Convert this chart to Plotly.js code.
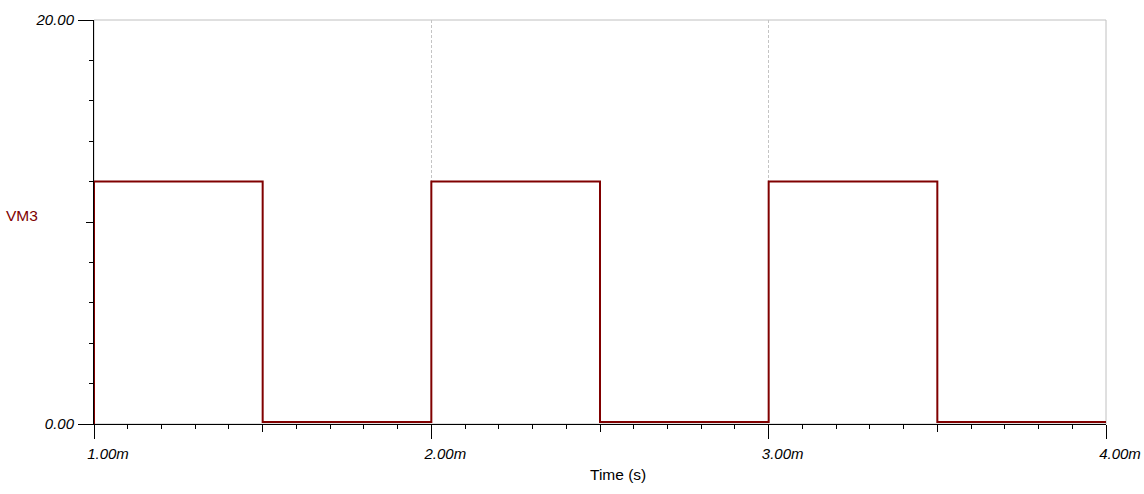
<!DOCTYPE html>
<html>
<head>
<meta charset="utf-8">
<script src="https://cdn.plot.ly/plotly-3.0.1.min.js"></script>
<style>
html,body{margin:0;padding:0;background:#fff;}
#chart{width:1144px;height:494px;}
</style>
</head>
<body>
<div id="chart"></div>
<script>
// Time in seconds, voltage of VM3
var timeS = [0.001, 0.001, 0.0015, 0.0015, 0.002, 0.002, 0.0025, 0.0025, 0.003, 0.003, 0.0035, 0.0035, 0.004];
var vm3 = [0, 12, 12, 0.1, 0.1, 12, 12, 0.1, 0.1, 12, 12, 0.1, 0.1];

var xTickVals = [0.001, 0.002, 0.003, 0.004];
var xTickText = ["1.00m", "2.00m", "3.00m", "4.00m"];
var xMidTicks = [0.0015, 0.0025, 0.0035];
var yTickVals = [0, 20];
var yTickText = ["0.00", "20.00"];
var yMidTicks = [10];

var tickFont = {family: "Liberation Sans, Arial, sans-serif", size: 15, color: "#000", style: "italic"};

var data = [
  {x: timeS, y: vm3, type: "scatter", mode: "lines",
   line: {color: "#800000", width: 2}, hoverinfo: "skip", showlegend: false},
  {x: [], y: [], xaxis: "x2", yaxis: "y2", type: "scatter", mode: "lines", showlegend: false, hoverinfo: "skip"}
];

var layout = {
  width: 1144, height: 494,
  margin: {l: 94, r: 38, t: 20, b: 70},
  paper_bgcolor: "#fff", plot_bgcolor: "#fff",
  showlegend: false,
  xaxis: {
    range: [0.001, 0.004], fixedrange: true,
    tickmode: "array", tickvals: xTickVals, ticktext: xTickText,
    ticks: "outside", ticklen: 14, tickcolor: "#000", tickwidth: 1,
    tickfont: tickFont, ticklabelshift: 14, ticklabelstandoff: 2,
    showline: true, linecolor: "#000", linewidth: 1,
    showgrid: true, gridcolor: "#c4c4c4", griddash: "3px,2px", gridwidth: 1,
    zeroline: false,
    minor: {dtick: 0.0001, tick0: 0.001, ticks: "outside", ticklen: 4, tickcolor: "#000", tickwidth: 1, showgrid: false}
  },
  xaxis2: {
    overlaying: "x", anchor: "y", side: "bottom",
    range: [0.001, 0.004], fixedrange: true,
    tickmode: "array", tickvals: xMidTicks,
    ticks: "outside", ticklen: 7, tickcolor: "#000", tickwidth: 1,
    showticklabels: false, showgrid: false, showline: false, zeroline: false
  },
  yaxis: {
    range: [0, 20], fixedrange: true,
    tickmode: "array", tickvals: yTickVals, ticktext: yTickText,
    ticks: "outside", ticklen: 15, tickcolor: "#000", tickwidth: 1,
    tickfont: tickFont, ticklabelstandoff: 1,
    showline: true, linecolor: "#000", linewidth: 1,
    showgrid: false, zeroline: false,
    minor: {dtick: 2, tick0: 0, ticks: "outside", ticklen: 4, tickcolor: "#000", tickwidth: 1, showgrid: false}
  },
  yaxis2: {
    overlaying: "y", anchor: "x", side: "left",
    range: [0, 20], fixedrange: true,
    tickmode: "array", tickvals: yMidTicks,
    ticks: "outside", ticklen: 7, tickcolor: "#000", tickwidth: 1,
    showticklabels: false, showgrid: false, showline: false, zeroline: false
  },
  shapes: [
    {type: "rect", xref: "paper", yref: "paper", x0: 0, x1: 1, y0: 0, y1: 1,
     line: {color: "#c0c0c0", width: 1}, layer: "below"}
  ],
  annotations: [
    {text: "VM3", xref: "paper", yref: "paper", x: -0.089, y: 0.517,
     xanchor: "left", yanchor: "middle", showarrow: false,
     font: {family: "Liberation Sans, Arial, sans-serif", size: 15.5, color: "#800000"}},
    {text: "Time (s)", xref: "paper", yref: "paper", x: 0.518, y: -0.126,
     xanchor: "center", yanchor: "middle", showarrow: false,
     font: {family: "Liberation Sans, Arial, sans-serif", size: 15.5, color: "#000"}}
  ]
};

Plotly.newPlot("chart", data, layout, {displayModeBar: false, staticPlot: true});
</script>
</body>
</html>
